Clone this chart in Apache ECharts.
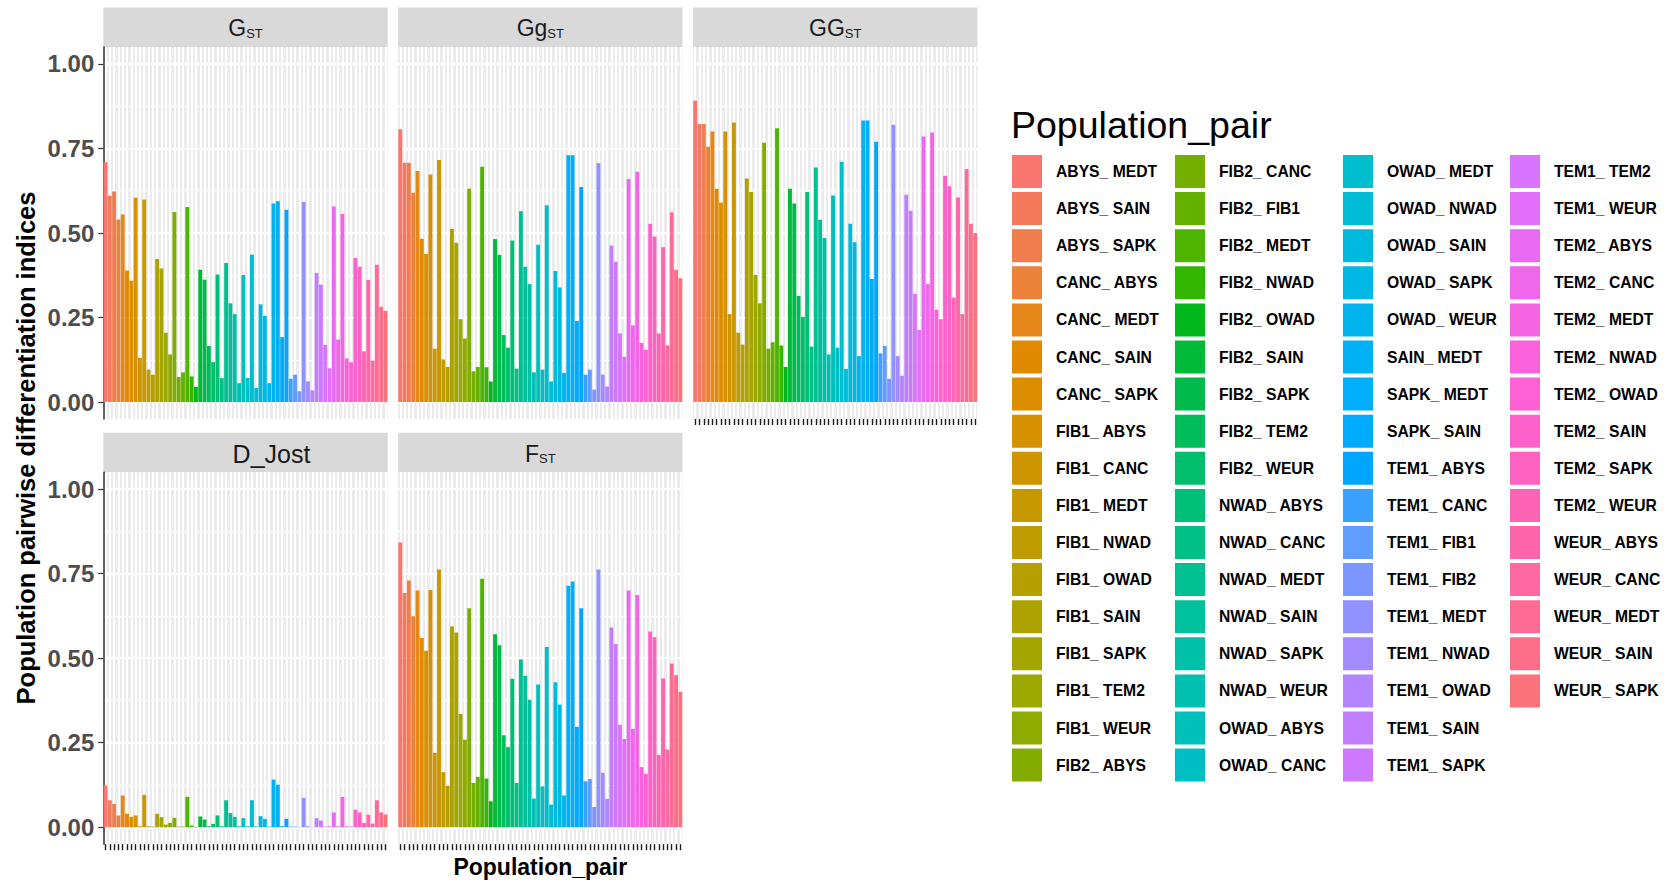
<!DOCTYPE html>
<html><head><meta charset="utf-8">
<script src="https://cdn.jsdelivr.net/npm/echarts@6/dist/echarts.min.js"></script>
<style>html,body{margin:0;padding:0;background:#fff}#c{width:1674px;height:882px}</style>
</head><body><div id="c"></div>
<script>
const pairs = ['ABYS_MEDT','ABYS_SAIN','ABYS_SAPK','CANC_ABYS','CANC_MEDT','CANC_SAIN','CANC_SAPK',
'FIB1_ABYS','FIB1_CANC','FIB1_MEDT','FIB1_NWAD','FIB1_OWAD','FIB1_SAIN','FIB1_SAPK','FIB1_TEM2','FIB1_WEUR',
'FIB2_ABYS','FIB2_CANC','FIB2_FIB1','FIB2_MEDT','FIB2_NWAD','FIB2_OWAD','FIB2_SAIN','FIB2_SAPK','FIB2_TEM2','FIB2_WEUR',
'NWAD_ABYS','NWAD_CANC','NWAD_MEDT','NWAD_SAIN','NWAD_SAPK','NWAD_WEUR',
'OWAD_ABYS','OWAD_CANC','OWAD_MEDT','OWAD_NWAD','OWAD_SAIN','OWAD_SAPK','OWAD_WEUR',
'SAIN_MEDT','SAPK_MEDT','SAPK_SAIN',
'TEM1_ABYS','TEM1_CANC','TEM1_FIB1','TEM1_FIB2','TEM1_MEDT','TEM1_NWAD','TEM1_OWAD','TEM1_SAIN','TEM1_SAPK','TEM1_TEM2','TEM1_WEUR',
'TEM2_ABYS','TEM2_CANC','TEM2_MEDT','TEM2_NWAD','TEM2_OWAD','TEM2_SAIN','TEM2_SAPK','TEM2_WEUR',
'WEUR_ABYS','WEUR_CANC','WEUR_MEDT','WEUR_SAIN','WEUR_SAPK'];

const GST = [0.709,0.61,0.623,0.54,0.555,0.389,0.359,0.604,0.131,0.599,
0.096,0.081,0.423,0.395,0.205,0.141,0.562,0.074,0.088,0.577,
0.076,0.045,0.391,0.362,0.166,0.118,0.377,0.071,0.411,0.292,
0.26,0.056,0.376,0.071,0.436,0.042,0.289,0.255,0.056,0.587,
0.594,0.192,0.569,0.069,0.081,0.032,0.592,0.061,0.035,0.382,
0.347,0.169,0.10,0.578,0.185,0.556,0.129,0.118,0.426,0.40,
0.15,0.361,0.123,0.406,0.282,0.27];

const GgST = [0.807,0.708,0.708,0.619,0.683,0.483,0.438,0.673,0.158,0.716,
0.126,0.104,0.512,0.471,0.245,0.188,0.631,0.091,0.104,0.696,
0.103,0.061,0.482,0.436,0.198,0.161,0.478,0.099,0.564,0.40,
0.349,0.088,0.465,0.096,0.582,0.061,0.388,0.339,0.086,0.73,
0.73,0.24,0.636,0.081,0.096,0.037,0.706,0.081,0.046,0.463,
0.415,0.203,0.134,0.66,0.227,0.681,0.175,0.155,0.527,0.49,
0.203,0.458,0.168,0.561,0.391,0.366];

const GGST = [0.891,0.822,0.822,0.755,0.80,0.631,0.59,0.80,0.26,0.827,
0.205,0.17,0.661,0.621,0.376,0.292,0.767,0.158,0.177,0.81,
0.167,0.104,0.631,0.587,0.314,0.252,0.621,0.164,0.694,0.539,
0.485,0.141,0.611,0.161,0.711,0.098,0.527,0.473,0.136,0.833,
0.833,0.364,0.77,0.144,0.166,0.069,0.82,0.136,0.078,0.613,
0.566,0.32,0.213,0.785,0.349,0.797,0.273,0.245,0.669,0.638,
0.309,0.605,0.26,0.689,0.527,0.50];

const DJOST = [0.124,0.08,0.069,0.035,0.094,0.04,0.031,0.035,0.003,0.096,
0.003,0.002,0.04,0.03,0.008,0.013,0.028,0.002,0.002,0.09,
0.005,0.001,0.032,0.023,0.003,0.01,0.035,0.003,0.08,0.042,
0.031,0.003,0.027,0.003,0.08,0.002,0.033,0.025,0.002,0.141,
0.126,0.003,0.025,0.002,0.002,0.001,0.087,0.003,0.001,0.027,
0.02,0.002,0.003,0.044,0.003,0.09,0.003,0.002,0.052,0.044,
0.013,0.037,0.011,0.08,0.044,0.038];

const FST = [0.842,0.693,0.73,0.624,0.70,0.56,0.522,0.702,0.22,0.762,
0.163,0.123,0.594,0.576,0.335,0.259,0.648,0.131,0.149,0.735,
0.144,0.077,0.571,0.538,0.272,0.237,0.439,0.131,0.496,0.448,
0.377,0.085,0.422,0.121,0.533,0.067,0.429,0.363,0.094,0.714,
0.727,0.297,0.648,0.136,0.143,0.06,0.762,0.161,0.084,0.591,
0.542,0.303,0.261,0.70,0.291,0.687,0.178,0.158,0.579,0.562,
0.214,0.44,0.23,0.484,0.45,0.401];

const yTicks = [0, 0.25, 0.5, 0.75, 1.0];
const yMinor = [0.125, 0.375, 0.625, 0.875];

// ggplot2 default hue palette
function hcl2hex(h, c, l) {
  const hr = h * Math.PI / 180;
  const U = c * Math.cos(hr), V = c * Math.sin(hr);
  const Xn = 95.047, Yn = 100, Zn = 108.883;
  const den = Xn + 15 * Yn + 3 * Zn;
  const un = 4 * Xn / den, vn = 9 * Yn / den;
  const Y = l > 8 ? Yn * Math.pow((l + 16) / 116, 3) : Yn * l / 903.3;
  const u = U / (13 * l) + un, v = V / (13 * l) + vn;
  const X = 9 * Y * u / (4 * v);
  const Z = -X / 3 - 5 * Y + 3 * Y / v;
  const x = X / 100, y = Y / 100, z = Z / 100;
  const lin = [3.240479 * x - 1.537150 * y - 0.498535 * z,
               -0.969256 * x + 1.875992 * y + 0.041556 * z,
               0.055648 * x - 0.204043 * y + 1.057311 * z];
  const gam = t => t > 0.00304 ? 1.055 * Math.pow(t, 1 / 2.4) - 0.055 : 12.92 * t;
  return '#' + lin.map(t => {
    let g = Math.round(Math.min(1, Math.max(0, gam(t))) * 255);
    return g.toString(16).padStart(2, '0');
  }).join('');
}
const N = pairs.length;
const colors = pairs.map((_, i) => hcl2hex(15 + i * 360 / N, 100, 65));

const FONT = '"Liberation Sans", Arial, Helvetica, sans-serif';
const PW = 284.4, PH = 372, STRIP = 39.4;
const panels = [
  {label: '{m|G}{s|ST}', data: GST,   left: 103.3, top: 47,    yLab: true,  xTick: false, dx: 0},
  {label: '{m|Gg}{s|ST}', data: GgST, left: 398.1, top: 47,    yLab: false, xTick: false, dx: 0},
  {label: '{m|GG}{s|ST}', data: GGST, left: 693.0, top: 47,    yLab: false, xTick: true,  dx: 0},
  {label: '{d|D_Jost}',   data: DJOST, left: 103.3, top: 472.2, yLab: true,  xTick: true,  dx: 26},
  {label: '{m|F}{s|ST}',  data: FST,  left: 398.1, top: 472.2, yLab: false, xTick: true, xName: true, dx: 0}
];

const grid = [], xAxis = [], yAxis = [], series = [], graphic = [];
panels.forEach((p, pi) => {
  grid.push({left: p.left, top: p.top, width: PW, height: PH, show: true,
    backgroundColor: '#EBEBEB', borderWidth: 0});
  xAxis.push({gridIndex: pi, type: 'category', data: pairs, boundaryGap: true, position: 'bottom',
    axisLine: {show: false, onZero: false},
    axisTick: {show: p.xTick, alignWithLabel: true, interval: 0, length: 6,
      lineStyle: {color: '#1A1A1A', width: 1.4}},
    axisLabel: {show: false, interval: 0},
    splitLine: {show: true, interval: 0, alignWithLabel: true, lineStyle: {color: '#ffffff', width: 2}},
    name: p.xName ? 'Population_pair' : '', nameLocation: 'middle', nameGap: 11,
    nameTextStyle: {fontFamily: FONT, fontWeight: 'bold', fontSize: 23, color: '#000', verticalAlign: 'top'}
  });
  yAxis.push({gridIndex: pi, type: 'value', min: -0.05, max: 1.05,
    axisLine: {show: p.yLab, lineStyle: {color: '#333333', width: 1.5}},
    axisTick: {show: p.yLab, length: 5, customValues: yTicks, lineStyle: {color: '#333333', width: 1.2}},
    axisLabel: {show: p.yLab, customValues: yTicks, margin: 9, formatter: v => v.toFixed(2),
      fontFamily: FONT, fontWeight: 'bold', fontSize: 24, color: '#4D4D4D'},
    splitLine: {show: true, lineStyle: {color: '#ffffff', width: 2}}
  });
  yAxis.push({gridIndex: pi, type: 'value', min: -0.05, max: 1.05, position: 'left',
    axisLine: {show: false},
    axisTick: {show: false, customValues: yMinor},
    axisLabel: {show: false, customValues: yMinor},
    splitLine: {show: true, lineStyle: {color: '#ffffff', width: 1}}
  });
  pairs.forEach((name, i) => {
    series.push({type: 'bar', name, xAxisIndex: pi, yAxisIndex: pi * 2, stack: 'p' + pi,
      barCategoryGap: '10%', silent: true, animation: false,
      itemStyle: {color: colors[i]},
      data: p.data.map((v, j) => j === i ? v : '-')});
  });
  graphic.push({type: 'rect', silent: true,
    shape: {x: p.left, y: p.top - STRIP, width: PW, height: STRIP}, style: {fill: '#D9D9D9'}});
  graphic.push({type: 'text', silent: true, x: p.left + PW / 2 + p.dx, y: p.top - STRIP / 2 + 1,
    style: {text: p.label, align: 'center', verticalAlign: 'middle', fill: '#1A1A1A',
      rich: {
        m: {fontFamily: FONT, fontSize: 23, lineHeight: 23, fill: '#1A1A1A', verticalAlign: 'bottom'},
        d: {fontFamily: FONT, fontSize: 25, lineHeight: 25, fill: '#1A1A1A', verticalAlign: 'bottom'},
        s: {fontFamily: FONT, fontSize: 13, lineHeight: 17, fill: '#1A1A1A', verticalAlign: 'bottom'}
      }}});
});

graphic.push({type: 'text', silent: true, x: 26, y: 448, rotation: Math.PI / 2,
  style: {text: 'Population pairwise differentiation indices', align: 'center', verticalAlign: 'middle',
    fontFamily: FONT, fontWeight: 'bold', fontSize: 25.5, fill: '#000'}});

const legX = [1012, 1175, 1343, 1510];
const legend = legX.map((lx, ci) => ({
  orient: 'vertical', left: lx, top: 155, padding: 0,
  itemWidth: 30, itemHeight: 33, itemGap: 4.1, icon: 'rect', selectedMode: false,
  data: pairs.slice(ci * 17, ci * 17 + 17),
  formatter: n => n.replace('_', '_ '),
  textStyle: {fontFamily: FONT, fontWeight: 'bold', fontSize: 15.7, color: '#000', padding: [0, 0, 0, 9]}
}));

const chart = echarts.init(document.getElementById('c'), null, {renderer: 'svg'});
chart.setOption({
  animation: false,
  backgroundColor: '#ffffff',
  title: {text: 'Population_pair', left: 1011, top: 106, padding: 0,
    textStyle: {fontFamily: FONT, fontWeight: 'normal', fontSize: 37.5, color: '#000'}},
  grid, xAxis, yAxis, series, legend, graphic
});
</script>
</body></html>
